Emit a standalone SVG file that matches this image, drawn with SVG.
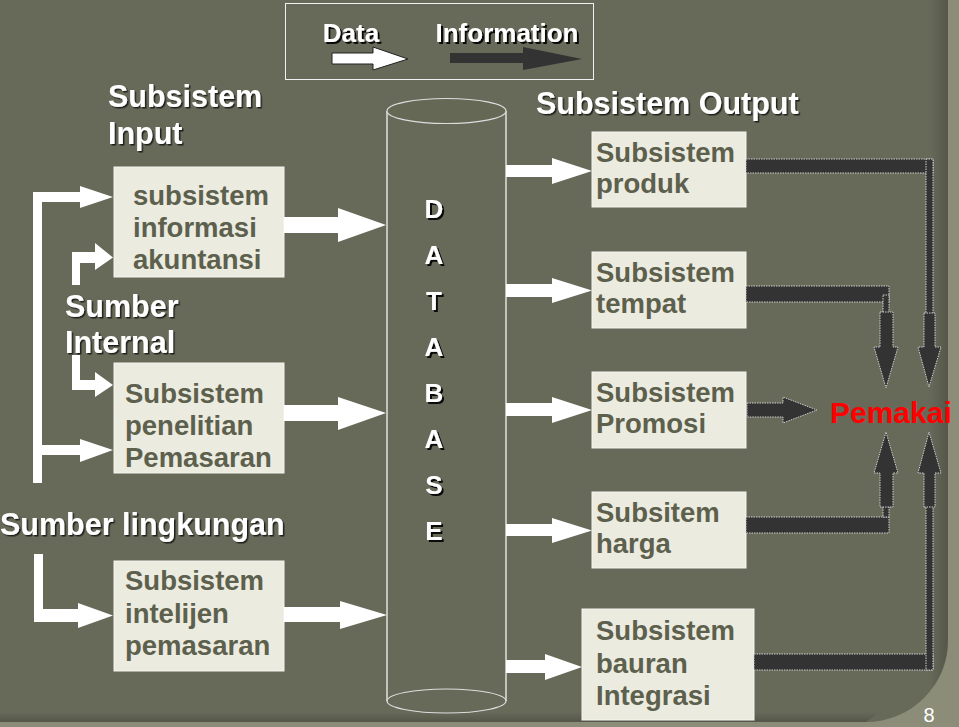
<svg xmlns="http://www.w3.org/2000/svg" width="959" height="727" viewBox="0 0 959 727">
<defs>
<filter id="sh" x="-10%" y="-20%" width="130%" height="150%"><feDropShadow dx="1.5" dy="1.5" stdDeviation="0.6" flood-color="#000" flood-opacity="0.7"/></filter>
<filter id="sh2" x="-30%" y="-20%" width="160%" height="150%"><feDropShadow dx="2" dy="2" stdDeviation="0.4" flood-color="#000" flood-opacity="0.9"/></filter>
<linearGradient id="edge" x1="0" y1="0" x2="1" y2="0"><stop offset="0" stop-color="#000" stop-opacity="0"/><stop offset="1" stop-color="#000" stop-opacity="0.18"/></linearGradient>
<linearGradient id="edgeb" x1="0" y1="0" x2="0" y2="1"><stop offset="0" stop-color="#000" stop-opacity="0"/><stop offset="1" stop-color="#000" stop-opacity="0.18"/></linearGradient>
</defs>
<style>
.box{fill:#ebebe0;stroke:#f6f6ef;stroke-width:1}
.bt{font-family:"Liberation Sans",Arial,sans-serif;font-weight:bold;font-size:27.5px;fill:#5c604c}
.lb{font-family:"Liberation Sans",Arial,sans-serif;font-weight:bold;font-size:30.5px;fill:#fff}
.lg{font-family:"Liberation Sans",Arial,sans-serif;font-weight:bold;font-size:26px;fill:#fff}
.db{font-family:"Liberation Sans",Arial,sans-serif;font-weight:bold;font-size:26px;fill:#fff}
.wa{fill:#fff}
.da{fill:#333;stroke:#cfcfcf;stroke-width:1;stroke-dasharray:1.5 1}
</style>
<rect x="0" y="0" width="959" height="727" fill="#8b8d79"/>
<path d="M0,0 H948 V640 A82,82 0 0 1 866,722 H0 Z" fill="#676959"/>
<path d="M930,0 H948 V640 A82,82 0 0 1 930,692 Z" fill="url(#edge)"/>
<path d="M0,712 H880 L866,722 H0 Z" fill="url(#edgeb)"/>
<text x="929" y="722" text-anchor="middle" font-family="Liberation Sans,Arial,sans-serif" font-size="20" fill="#fff">8</text>

<g id="legend">
<rect x="285.5" y="3.5" width="308" height="76" fill="none" stroke="#f0f0f0" stroke-width="1"/>
<text x="351" y="42" text-anchor="middle" class="lg" filter="url(#sh2)">Data</text>
<text x="507" y="42" text-anchor="middle" class="lg" filter="url(#sh2)">Information</text>
<polygon points="332,53 373,53 373,47 408,59 373,70 373,64 332,64" fill="#fff" stroke="#222" stroke-width="1"/>
<polygon points="450,53 523,53 523,47 582,59 523,70 523,63 450,63" fill="#333"/>
</g>

<g id="labels">
<text class="lb" x="108" y="107" filter="url(#sh)">Subsistem</text>
<text class="lb" x="108" y="144" filter="url(#sh)">Input</text>
<text class="lb" x="536" y="114" filter="url(#sh)">Subsistem Output</text>
<text class="lb" x="65" y="317" filter="url(#sh)">Sumber</text>
<text class="lb" x="65" y="353" filter="url(#sh)">Internal</text>
<text class="lb" x="0" y="535" filter="url(#sh)">Sumber lingkungan</text>
</g>

<g id="database">
<path d="M387,111 V701 M506,111 V701" stroke="#fff" stroke-width="1.2" fill="none"/>
<ellipse cx="446.5" cy="111" rx="59.5" ry="12.5" fill="#666856" stroke="#ddd" stroke-width="1.2"/>
<ellipse cx="446.5" cy="701" rx="59.5" ry="12" fill="none" stroke="#ddd" stroke-width="1.2"/>
<g class="db" text-anchor="middle" filter="url(#sh2)">
<text x="434" y="218">D</text>
<text x="434" y="264">A</text>
<text x="434" y="310">T</text>
<text x="434" y="356">A</text>
<text x="434" y="402">B</text>
<text x="434" y="448">A</text>
<text x="434" y="494">S</text>
<text x="434" y="540">E</text>
</g>
</g>

<g id="sia"><rect class="box" x="114" y="167" width="170" height="110"/>
<text class="bt" x="133" y="205">subsistem</text><text class="bt" x="133" y="237">informasi</text><text class="bt" x="133" y="269">akuntansi</text></g>
<g id="penelitian"><rect class="box" x="114" y="363" width="170" height="110"/>
<text class="bt" x="125" y="403">Subsistem</text><text class="bt" x="125" y="435">penelitian</text><text class="bt" x="125" y="467">Pemasaran</text></g>
<g id="intelijen"><rect class="box" x="114" y="561" width="170" height="110"/>
<text class="bt" x="125" y="590">Subsistem</text><text class="bt" x="125" y="623">intelijen</text><text class="bt" x="125" y="655">pemasaran</text></g>

<g id="produk"><rect class="box" x="592" y="132" width="154" height="75"/>
<text class="bt" x="596" y="162">Subsistem</text><text class="bt" x="596" y="193">produk</text></g>
<g id="tempat"><rect class="box" x="592" y="252" width="154" height="76"/>
<text class="bt" x="596" y="282">Subsistem</text><text class="bt" x="596" y="313">tempat</text></g>
<g id="promosi"><rect class="box" x="592" y="372" width="154" height="76"/>
<text class="bt" x="596" y="402">Subsistem</text><text class="bt" x="596" y="433">Promosi</text></g>
<g id="harga"><rect class="box" x="592" y="492" width="154" height="76"/>
<text class="bt" x="596" y="522">Subsitem</text><text class="bt" x="596" y="553">harga</text></g>
<g id="bauran"><rect class="box" x="582" y="609" width="172" height="111"/>
<text class="bt" x="596" y="640">Subsistem</text><text class="bt" x="596" y="673">bauran</text><text class="bt" x="596" y="705">Integrasi</text></g>

<g id="pemakai"><text x="830" y="423" font-family="Liberation Sans,Arial,sans-serif" font-weight="bold" font-size="30" fill="#ff0000">Pemakai</text></g>

<g id="connectors">
<polygon class="wa" points="33,483 33,192 80,192 80,186 113,197 80,208 80,202 42,202 42,445 80,445 80,439 113,450 80,462 80,455 42,455 42,483"/>
<polygon class="wa" points="72,285 72,252 95,252 95,243 113,257.5 95,270 95,263 80,263 80,285"/>
<polygon class="wa" points="72,355 80,355 80,380 95,380 95,372 113,385 95,397 95,390 72,390"/>
<polygon class="wa" points="34,554 43,554 43,609 78,609 78,603 113,615.5 78,628 78,622 34,622"/>
<polygon class="wa" points="284,217 338,217 338,208 386,225 338,242 338,233 284,233"/>
<polygon class="wa" points="284,405 338,405 338,397 386,413 338,430 338,421 284,421"/>
<polygon class="wa" points="284,607 340,607 340,601 387,615 340,629 340,622 284,622"/>
<polygon class="wa" points="506,165 552,165 552,158 592,171 552,184 552,177 506,177"/>
<polygon class="wa" points="506,284 552,284 552,278 592,290.5 552,303 552,297 506,297"/>
<polygon class="wa" points="506,403 552,403 552,397 592,410 552,423 552,416 506,416"/>
<polygon class="wa" points="506,524 552,524 552,518 592,530.5 552,543 552,536 506,536"/>
<polygon class="wa" points="506,660 545,660 545,654 582,667 545,680 545,673 506,673"/>
<rect class="da" x="746" y="159" width="187" height="14"/>
<rect class="da" x="926" y="159" width="7" height="161"/>
<polygon class="da" points="924,313 935,313 935,347 941,347 929,387 918,347 924,347"/>
<rect class="da" x="746" y="286" width="143" height="16"/>
<rect class="da" x="883" y="295" width="6" height="25"/>
<polygon class="da" points="880,312 893,312 893,347 898,347 886,388 874,347 880,347"/>
<polygon class="da" points="747,403 783,403 783,397 817,410 783,423 783,417 747,417"/>
<rect class="da" x="746" y="517" width="143" height="16"/>
<rect class="da" x="883" y="505" width="6" height="12"/>
<polygon class="da" points="880,507 893,507 893,473 898,473 886,432 874,473 880,473"/>
<rect class="da" x="754" y="654" width="179" height="16"/>
<rect class="da" x="926" y="505" width="7" height="165"/>
<polygon class="da" points="924,507 935,507 935,473 941,473 929,432 918,473 924,473"/>
</g>
</svg>
